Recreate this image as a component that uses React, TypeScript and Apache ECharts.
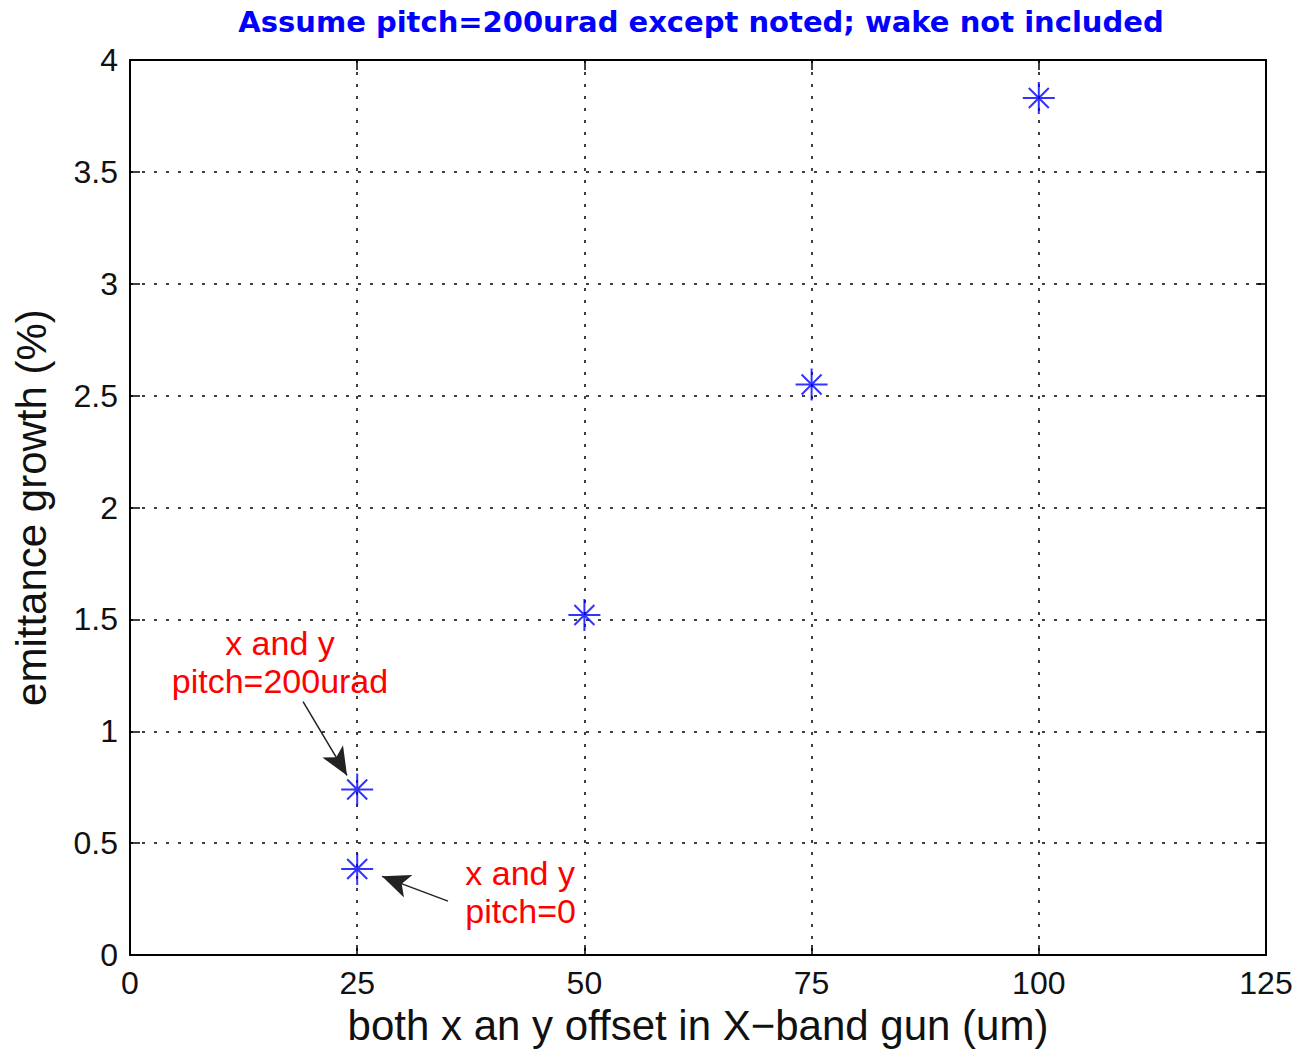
import React, { useEffect, useRef } from "react";
import * as echarts from "echarts";

// Offset of the X-band gun (um) and resulting emittance growth (%)
const offsets = [25, 25, 50, 75, 100];
const growth = [0.74, 0.385, 1.52, 2.55, 3.83];

const xMin = 0;
const xMax = 125;
const xStep = 25;
const yMin = 0;
const yMax = 4;
const yStep = 0.5;

const titleText = "Assume pitch=200urad except noted; wake not included";
const xName = "both x an y offset in X\u2212band gun (um)";
const yName = "emittance growth (%)";

// Annotation texts, their anchor (data coords) and arrow (start -> tip)
const noteLines = [
  ["x and y", "pitch=200urad"],
  ["x and y", "pitch=0"],
];
const noteAnchors = [
  [16.5, 1.31],
  [36.9, 0.28],
];
const noteAlign = ["center", "left"];
const arrowStarts = [
  [19.04, 1.133],
  [34.99, 0.241],
];
const arrowTips = [
  [23.88, 0.803],
  [27.73, 0.352],
];

const FONT = "Liberation Sans, Arial, sans-serif";
const asterisk =
  "path://M0,-16L0,16M-16,0L16,0M-10,-10L10,10M-10,10L10,-10";

export default function App() {
  const ref = useRef<HTMLDivElement>(null);

  useEffect(() => {
    if (!ref.current) return;
    const chart = echarts.init(ref.current, undefined, { renderer: "svg" });

    const gridLine = {
      show: true,
      lineStyle: { color: "#000", width: 1.5, type: [3, 9] as any },
    };
    const boxLine = {
      show: true,
      onZero: false,
      lineStyle: { color: "#000", width: 2 },
    };
    const tickIn = {
      show: true,
      inside: true,
      length: 10,
      lineStyle: { color: "#000", width: 1.5 },
    };
    const tickLabel = { color: "#111", fontFamily: FONT, fontSize: 32 };

    chart.setOption({
      animation: false,
      backgroundColor: "#fff",
      title: {
        text: titleText,
        left: 696,
        textAlign: "center",
        top: 2,
        textStyle: {
          color: "#0000ff",
          fontFamily: "DejaVu Sans, sans-serif",
          fontWeight: "bold",
          fontSize: 29,
        },
      },
      grid: { left: 130, right: 36, top: 60, bottom: 94 },
      xAxis: [
        {
          type: "value",
          min: xMin,
          max: xMax,
          interval: xStep,
          axisLine: boxLine,
          axisTick: tickIn,
          splitLine: gridLine,
          axisLabel: { ...tickLabel, margin: 12 },
          name: xName,
          nameLocation: "middle",
          nameGap: 46,
          nameTextStyle: { color: "#111", fontFamily: FONT, fontSize: 42 },
        },
        {
          type: "value",
          position: "top",
          min: xMin,
          max: xMax,
          interval: xStep,
          axisLine: boxLine,
          axisTick: tickIn,
          splitLine: { show: false },
          axisLabel: { show: false },
        },
      ],
      yAxis: [
        {
          type: "value",
          min: yMin,
          max: yMax,
          interval: yStep,
          axisLine: boxLine,
          axisTick: tickIn,
          splitLine: gridLine,
          axisLabel: { ...tickLabel, margin: 12 },
          name: yName,
          nameLocation: "middle",
          nameGap: 78,
          nameTextStyle: { color: "#111", fontFamily: FONT, fontSize: 42 },
        },
        {
          type: "value",
          position: "right",
          min: yMin,
          max: yMax,
          interval: yStep,
          axisLine: boxLine,
          axisTick: tickIn,
          splitLine: { show: false },
          axisLabel: { show: false },
        },
      ],
      series: [
        {
          type: "scatter",
          data: offsets.map((x, i) => [x, growth[i]]),
          symbol: asterisk,
          symbolSize: 32,
          itemStyle: {
            color: "transparent",
            borderColor: "#0000ff",
            borderWidth: 2,
          },
          markLine: {
            silent: true,
            symbol: ["none", "arrow"],
            symbolSize: [18, 28],
            lineStyle: { color: "#222", width: 1.5, type: "solid" },
            label: { show: false },
            data: arrowStarts.map((s, i) => [
              { coord: s },
              { coord: arrowTips[i] },
            ]),
          },
        },
      ],
    });

    const graphic = noteLines.map((lines, i) => {
      const [px, py] = chart.convertToPixel({ gridIndex: 0 }, noteAnchors[i]);
      return {
        type: "text",
        x: px,
        y: py,
        style: {
          text: lines.join("\n"),
          fill: "#ff0000",
          fontFamily: FONT,
          fontSize: 34,
          lineHeight: 38,
          align: noteAlign[i],
          verticalAlign: "middle",
        },
      };
    });
    chart.setOption({ graphic });

    return () => chart.dispose();
  }, []);

  return (
    <div
      ref={ref}
      style={{ position: "fixed", left: 0, top: 0, width: 1302, height: 1051 }}
    />
  );
}
